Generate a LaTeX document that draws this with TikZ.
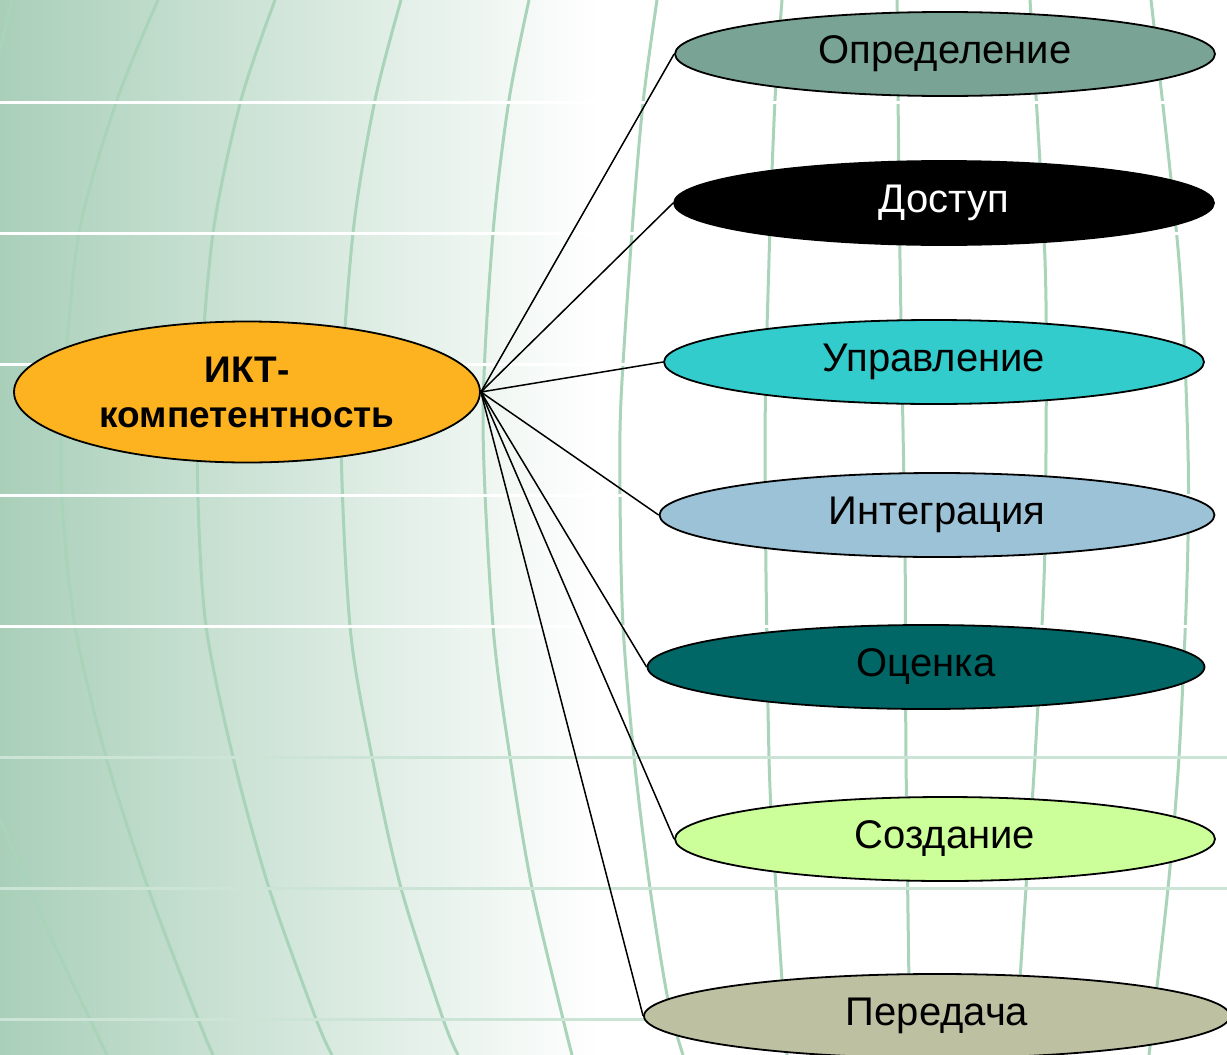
\documentclass[tikz,border=0pt]{standalone}
\usepackage{fontspec}
\setmainfont{Liberation Sans}
\usetikzlibrary{shapes.geometric}

\definecolor{bggreen}{HTML}{A9CFB9}
\definecolor{gridgreen}{HTML}{A9D4BA}
\definecolor{rowgreen}{HTML}{CCE4D5}
\definecolor{iktorange}{HTML}{FDB21F}
\definecolor{defgreen}{HTML}{79A394}
\definecolor{mancyan}{HTML}{33CCCC}
\definecolor{intblue}{HTML}{9CC2D8}
\definecolor{evateal}{HTML}{006666}
\definecolor{crelime}{HTML}{CCFF99}
\definecolor{trakhaki}{HTML}{BDC1A2}

\tikzset{
  topic/.style={ellipse, draw=black, line width=1.8pt, inner sep=0pt,
    minimum width=540pt, minimum height=84pt, font=\fontsize{40}{46}\selectfont},
  core/.style={ellipse, draw=black, line width=1.8pt, inner sep=0pt,
    minimum width=466pt, minimum height=141pt, align=center,
    font=\fontsize{37}{45}\selectfont\bfseries},
  link/.style={line width=1.5pt},
  meridian/.style={gridgreen, line width=3pt},
}

\begin{document}
\begin{tikzpicture}[x=1pt, y=-1pt]
  \useasboundingbox (0,0) rectangle (1227,1055);
  \fill[white] (0,0) rectangle (1227,1055);
  \shade[left color=bggreen, right color=white] (0,0) rectangle (600,1055);

  % globe meridians
  \draw[meridian] plot[smooth] coordinates {(12,0) (0,50)};
  \draw[meridian] plot[smooth] coordinates {(0,819) (50,935) (107,1055)};
  \draw[meridian] plot[smooth] coordinates {(158,0) (117,100) (79,233) (63,400) (62,500) (75,626) (106,757) (148,888) (198,1019) (213,1055)};
  \draw[meridian] plot[smooth] coordinates {(275,0) (241,100) (213,233) (199,400) (198,500) (206,626) (233,757) (269,888) (316,1019) (332,1055)};
  \draw[meridian] plot[smooth] coordinates {(401,0) (375,100) (353,233) (341,420) (350,626) (372,757) (401,888) (443,1019) (458,1055)};
  \draw[meridian] plot[smooth] coordinates {(529,0) (509,100) (493,233) (483,420) (493,626) (510,757) (532,888) (563,1019) (572,1055)};
  \draw[meridian] plot[smooth] coordinates {(657,0) (643,103) (632,232) (621,400) (620,495) (623,625) (634,757) (650,888) (668,1000) (683,1055)};
  \draw[meridian] plot[smooth] coordinates {(782,0) (775,100) (769,260) (765,450) (769,757) (776,888) (787,1055)};
  \draw[meridian] plot[smooth] coordinates {(897,0) (900,260) (905,550) (906,757) (910,1055)};
  \draw[meridian] plot[smooth] coordinates {(1030,0) (1045,260) (1046,450) (1044,580) (1035,757) (1026,888) (1015,1055)};
  \draw[meridian] plot[smooth] coordinates {(1151,0) (1179,260) (1188,450) (1187,580) (1179,757) (1168,888) (1149,1055)};

  % parallels
  \foreach \y in {102,233,364,495,626}
    \draw[white, line width=3pt] (0,\y) -- (1227,\y);
  \foreach \y in {757,888,1019}
    \draw[rowgreen, line width=3pt] (0,\y) -- (1227,\y);

  \node[core, fill=iktorange] (ikt) at (247,392) {ИКТ-\\компетентность};

  \node[topic, fill=defgreen] (def) at (945,54) {Определение};
  \node[topic, fill=black, text=white] (acc) at (944,203) {Доступ};
  \node[topic, fill=mancyan] (man) at (934,362) {Управление};
  \node[topic, fill=intblue, minimum width=555pt] (int) at (937,515) {Интеграция};
  \node[topic, fill=evateal, minimum width=557pt] (eva) at (926,667) {Оценка};
  \node[topic, fill=crelime] (cre) at (945,839) {Создание};
  \node[topic, fill=trakhaki, minimum width=586pt] (tra) at (937,1016) {Передача};

  \foreach \n in {def,acc,man,int,eva,cre,tra}
    \draw[link] (ikt.east) -- (\n.west);
\end{tikzpicture}
\end{document}
